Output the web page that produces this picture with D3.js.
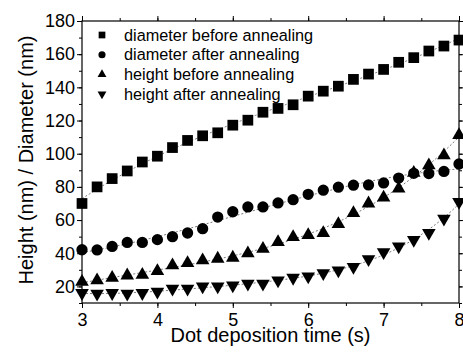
<!DOCTYPE html>
<html>
<head>
<meta charset="utf-8">
<script src="https://cdn.jsdelivr.net/npm/d3@7"></script>
<style>
  body { margin: 0; background: #fff; }
  svg { display: block; font-family: "Liberation Sans", Arial, sans-serif; }
</style>
</head>
<body>
<div id="chart"></div>
<script>
// deposition times (s)
const times = [3.0, 3.2, 3.4, 3.6, 3.8, 4.0, 4.2, 4.4, 4.6, 4.8, 5.0, 5.2, 5.4,
  5.6, 5.8, 6.0, 6.2, 6.4, 6.6, 6.8, 7.0, 7.2, 7.4, 7.6, 7.8, 8.0]
const diameterBefore = [70, 80, 85, 89.6, 95, 98.5, 103.7, 108, 110.8, 112.6, 117.2, 120.2, 125,
  127.3, 129.5, 134.7, 137.7, 140.7, 144.8, 148, 150.8, 155.1, 157.9, 161.9, 164.9, 168.5]
const diameterAfter = [42.1, 42, 44.1, 46.5, 46.5, 48.2, 50, 52.2, 54.8, 61.8, 65, 67.9, 67.9,
  70.3, 72.3, 75.5, 78, 79.8, 81, 81.2, 82.4, 85.3, 88.2, 88, 89.3, 93.8]
const heightBefore = [22.8, 23.6, 25.2, 26.6, 27, 29.2, 32.7, 34, 35.7, 36.7, 37.3, 40, 42.7,
  46.7, 49.8, 51, 52.2, 57.6, 64.2, 70, 73.5, 79, 88.4, 93, 99, 111.2]
const heightAfter = [16, 15.6, 16, 15.6, 16, 16.8, 18.6, 18.6, 20, 20, 20.6, 21.6, 21.6,
  23.6, 25.2, 26, 28, 29.6, 31.8, 36.4, 40.7, 44.1, 48, 52.2, 60.9, 70.9]
const seriesNames = ['diameter before annealing', 'diameter after annealing',
  'height before annealing', 'height after annealing']
const xTicks = [3, 4, 5, 6, 7, 8]
const yTicks = [20, 40, 60, 80, 100, 120, 140, 160, 180]

const width = 463
const height = 354
const margin = { top: 21, right: 4, bottom: 51, left: 82 }

const svg = d3.select('#chart').append('svg')
  .attr('width', width)
  .attr('height', height)

const x = d3.scaleLinear().domain([3, 8]).range([margin.left, width - margin.right])
const y = d3.scaleLinear().domain([10, 180]).range([height - margin.bottom, margin.top])

// 多项式最小二乘拟合，用于画虚线拟合曲线
function polyFit (xs, ys, deg) {
  const n = deg + 1
  const A = d3.range(n).map(() => new Array(n + 1).fill(0))
  xs.forEach((xv, k) => {
    const t = xv - 5.5
    for (let i = 0; i < n; i++) {
      for (let j = 0; j < n; j++) A[i][j] += Math.pow(t, i + j)
      A[i][n] += ys[k] * Math.pow(t, i)
    }
  })
  for (let i = 0; i < n; i++) {
    let p = i
    for (let r = i + 1; r < n; r++) if (Math.abs(A[r][i]) > Math.abs(A[p][i])) p = r
    const tmp = A[i]; A[i] = A[p]; A[p] = tmp
    for (let r = 0; r < n; r++) {
      if (r === i) continue
      const f = A[r][i] / A[i][i]
      for (let c = i; c <= n; c++) A[r][c] -= f * A[i][c]
    }
  }
  const coef = A.map((row, i) => row[n] / row[i])
  return xv => coef.reduce((s, c, i) => s + c * Math.pow(xv - 5.5, i), 0)
}

const series = [
  { name: seriesNames[0], values: diameterBefore, symbol: d3.symbolSquare, size: 115, legSize: 45, rot: 0, deg: 3 },
  { name: seriesNames[1], values: diameterAfter, symbol: d3.symbolCircle, size: 100, legSize: 40, rot: 0, deg: 3 },
  { name: seriesNames[2], values: heightBefore, symbol: d3.symbolTriangle, size: 80, legSize: 34, rot: 0, deg: 4 },
  { name: seriesNames[3], values: heightAfter, symbol: d3.symbolTriangle, size: 80, legSize: 34, rot: 180, deg: 4 }
]

// 拟合虚线
const line = d3.line().x(d => x(d[0])).y(d => y(d[1]))
const fine = d3.range(3, 8.001, 0.05)
series.forEach(s => {
  const f = polyFit(times, s.values, s.deg)
  svg.append('path')
    .attr('d', line(fine.map(t => [t, f(t)])))
    .attr('fill', 'none')
    .attr('stroke', '#555')
    .attr('stroke-width', 0.8)
    .attr('stroke-dasharray', '2,2')
})

// 数据点
series.forEach(s => {
  const sym = d3.symbol().type(s.symbol).size(s.size)
  svg.append('g').selectAll('path')
    .data(times.map((t, i) => [t, s.values[i]]))
    .join('path')
    .attr('d', sym)
    .attr('transform', d => `translate(${x(d[0])},${y(d[1])}) rotate(${s.rot})`)
    .attr('fill', '#000')
})

// 坐标轴（四边，刻度朝外）
const xMinor = d3.range(3, 8.01, 0.5)
const yMinor = d3.range(10, 180.1, 10)
function styleAxis (g) {
  g.selectAll('text').attr('font-size', 18).attr('fill', '#000')
}
const axisB = svg.append('g').attr('transform', `translate(0,${y.range()[0]})`)
axisB.append('g').call(d3.axisBottom(x).tickValues(xMinor).tickSize(3).tickFormat(''))
axisB.append('g').call(d3.axisBottom(x).tickValues(xTicks).tickSize(5).tickPadding(5).tickFormat(d3.format('d')))
  .call(styleAxis)
const axisT = svg.append('g').attr('transform', `translate(0,${y.range()[1]})`)
axisT.append('g').call(d3.axisTop(x).tickValues(xMinor).tickSize(3).tickFormat(''))
axisT.append('g').call(d3.axisTop(x).tickValues(xTicks).tickSize(5).tickFormat(''))
const axisL = svg.append('g').attr('transform', `translate(${x.range()[0]},0)`)
axisL.append('g').call(d3.axisLeft(y).tickValues(yMinor).tickSize(3).tickFormat(''))
axisL.append('g').call(d3.axisLeft(y).tickValues(yTicks).tickSize(5).tickPadding(2).tickFormat(d3.format('d')))
  .call(styleAxis)
const axisR = svg.append('g').attr('transform', `translate(${x.range()[1]},0)`)
axisR.append('g').call(d3.axisRight(y).tickValues(yMinor).tickSize(3).tickFormat(''))
axisR.append('g').call(d3.axisRight(y).tickValues(yTicks).tickSize(5).tickFormat(''))
svg.selectAll('.domain').remove()
svg.selectAll('.tick line').attr('stroke', '#000')

svg.append('rect')
  .attr('x', x.range()[0])
  .attr('y', y.range()[1])
  .attr('width', x.range()[1] - x.range()[0])
  .attr('height', y.range()[0] - y.range()[1])
  .attr('fill', 'none')
  .attr('stroke', '#000')
  .attr('stroke-width', 1.2)

// 轴标题
svg.append('text')
  .attr('x', (x.range()[0] + x.range()[1]) / 2)
  .attr('y', 342)
  .attr('text-anchor', 'middle')
  .attr('font-size', 20)
  .text('Dot deposition time (s)')
svg.append('text')
  .attr('transform', `translate(33,${(y.range()[0] + y.range()[1]) / 2 - 2}) rotate(-90)`)
  .attr('text-anchor', 'middle')
  .attr('font-size', 20)
  .text('Height (nm) / Diameter (nm)')

// 图例
const legend = svg.append('g').attr('transform', 'translate(102,35)')
series.forEach((s, i) => {
  const row = legend.append('g').attr('transform', `translate(0,${i * 19.7})`)
  row.append('path')
    .attr('d', d3.symbol().type(s.symbol).size(s.legSize))
    .attr('transform', `rotate(${s.rot})`)
    .attr('fill', '#000')
  row.append('text')
    .attr('x', 22)
    .attr('dy', '0.35em')
    .attr('font-size', 16.3)
    .text(s.name)
})
</script>
</body>
</html>
